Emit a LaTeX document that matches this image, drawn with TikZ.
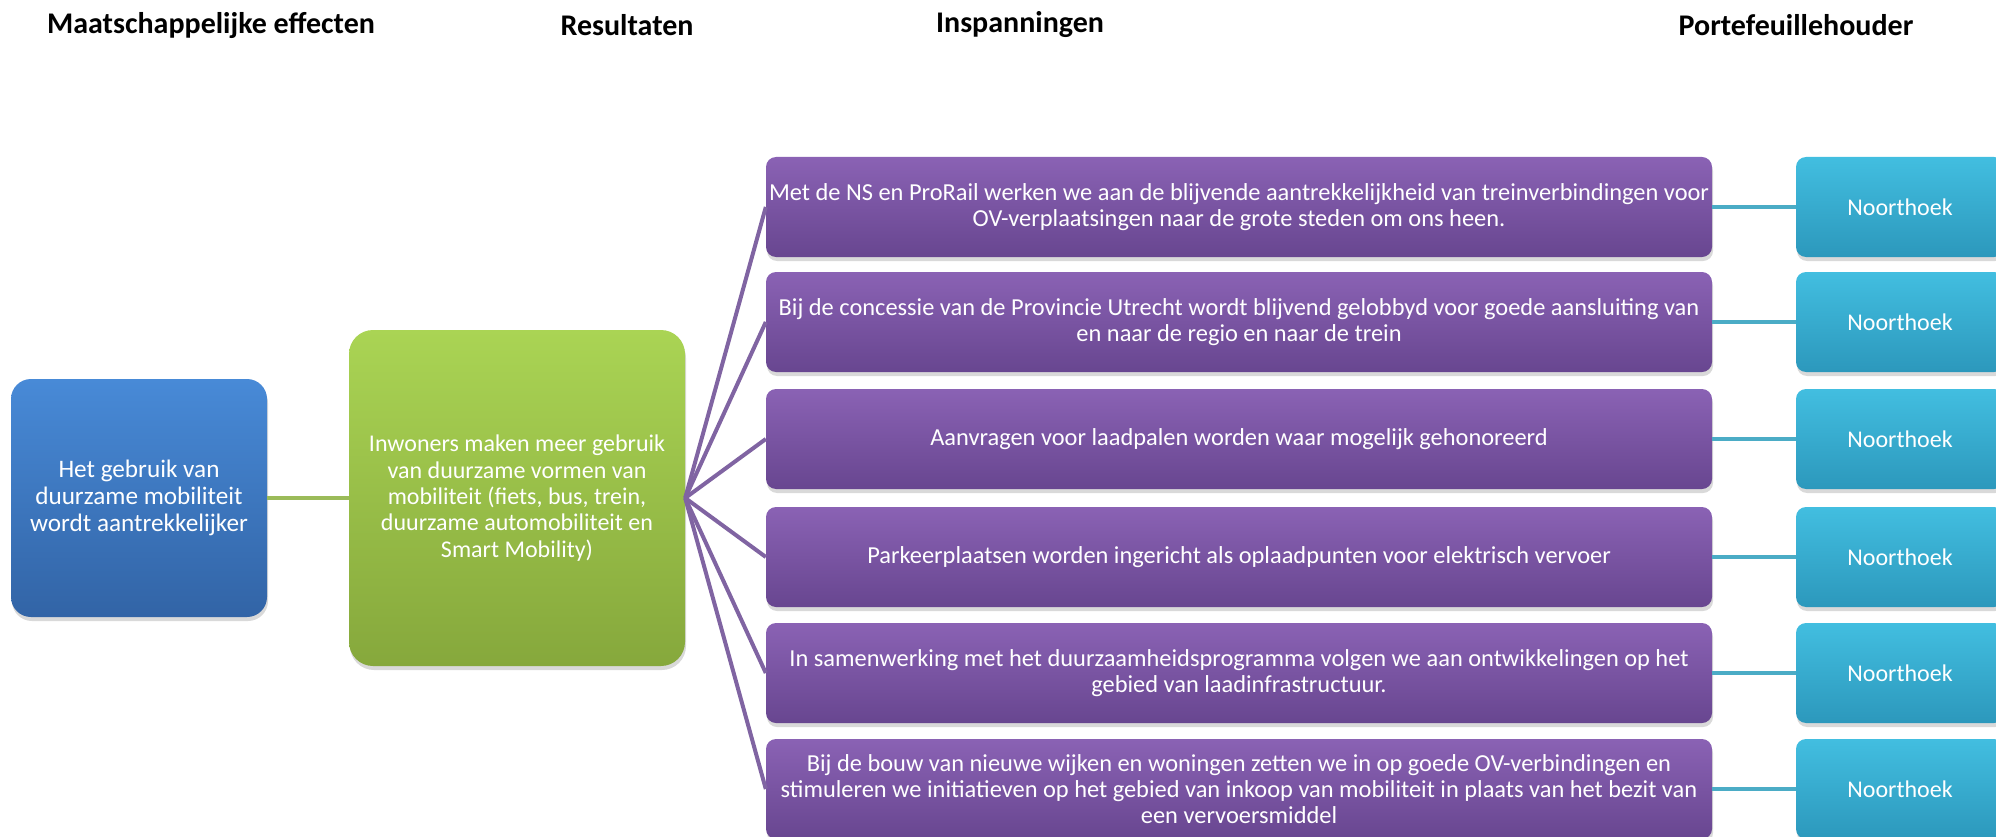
\documentclass[tikz,border=0pt]{standalone}
\usepackage{fontspec}
\setmainfont{Carlito}
\usetikzlibrary{shadows}
\definecolor{bluetop}{RGB}{72,138,215}
\definecolor{bluebot}{RGB}{50,100,166}
\definecolor{greentop}{RGB}{170,212,84}
\definecolor{greenbot}{RGB}{134,168,60}
\definecolor{purpletop}{RGB}{138,98,180}
\definecolor{purplebot}{RGB}{104,70,144}
\definecolor{tealtop}{RGB}{66,190,224}
\definecolor{tealbot}{RGB}{44,152,188}
\definecolor{greenline}{RGB}{155,187,89}
\definecolor{purpleline}{RGB}{128,100,162}
\definecolor{tealline}{RGB}{75,172,198}

\begin{document}
\begin{tikzpicture}[x=1pt,y=-1pt,
	head/.style={font=\bfseries\fontsize{30}{32}\selectfont},
	box/.style={rounded corners=10pt, inner sep=0pt, align=center, text=white,
		drop shadow={shadow xshift=1pt, shadow yshift=-4pt, opacity=0.3}},
	effect/.style={box, rounded corners=20pt, minimum width=256pt, minimum height=238pt,
		font=\fontsize{25.2}{26.7}\selectfont, top color=bluetop, bottom color=bluebot},
	result/.style={box, rounded corners=24pt, minimum width=336pt, minimum height=336pt,
		font=\fontsize{24}{26.3}\selectfont, top color=greentop, bottom color=greenbot},
	effort/.style={box, minimum width=946pt, minimum height=100pt,
		font=\fontsize{24.4}{25.8}\selectfont, top color=purpletop, bottom color=purplebot},
	holder/.style={box, minimum width=208pt, minimum height=100pt,
		font=\fontsize{24}{25.8}\selectfont, top color=tealtop, bottom color=tealbot},
	link/.style={line width=4pt}]
	\useasboundingbox (0,0) rectangle (1996,837);

	\node[head] (hEffect) at (211,25) {Maatschappelijke effecten};
	\node[head] (hResult) at (627,25) {Resultaten};
	\node[head] (hEffort) at (1020,25) {Inspanningen};
	\node[head] (hHolder) at (1796,25) {Portefeuillehouder};

	\node[effect] (effect) at (139,498) {Het gebruik van\\duurzame mobiliteit\\wordt aantrekkelijker};
	\node[result] (result) at (517,498) {Inwoners maken meer gebruik\\van duurzame vormen van\\mobiliteit (fiets, bus, trein,\\duurzame automobiliteit en\\Smart Mobility)};

	\node[effort] (effort1) at (1239,207) {Met de NS en ProRail werken we aan de blijvende aantrekkelijkheid van treinverbindingen voor\\OV-verplaatsingen naar de grote steden om ons heen.};
	\node[effort] (effort2) at (1239,322) {Bij de concessie van de Provincie Utrecht wordt blijvend gelobbyd voor goede aansluiting van\\en naar de regio en naar de trein};
	\node[effort] (effort3) at (1239,439) {Aanvragen voor laadpalen worden waar mogelijk gehonoreerd};
	\node[effort] (effort4) at (1239,557) {Parkeerplaatsen worden ingericht als oplaadpunten voor elektrisch vervoer};
	\node[effort] (effort5) at (1239,673) {In samenwerking met het duurzaamheidsprogramma volgen we aan ontwikkelingen op het\\gebied van laadinfrastructuur.};
	\node[effort] (effort6) at (1239,789) {Bij de bouw van nieuwe wijken en woningen zetten we in op goede OV-verbindingen en\\stimuleren we initiatieven op het gebied van inkoop van mobiliteit in plaats van het bezit van\\een vervoersmiddel};

	\node[holder] (holder1) at (1900,207) {Noorthoek};
	\node[holder] (holder2) at (1900,322) {Noorthoek};
	\node[holder] (holder3) at (1900,439) {Noorthoek};
	\node[holder] (holder4) at (1900,557) {Noorthoek};
	\node[holder] (holder5) at (1900,673) {Noorthoek};
	\node[holder] (holder6) at (1900,789) {Noorthoek};

	\draw[link,greenline] (effect.east) -- (result.west);

	\draw[link,purpleline] (result.east) -- (effort1.west);
	\draw[link,purpleline] (result.east) -- (effort2.west);
	\draw[link,purpleline] (result.east) -- (effort3.west);
	\draw[link,purpleline] (result.east) -- (effort4.west);
	\draw[link,purpleline] (result.east) -- (effort5.west);
	\draw[link,purpleline] (result.east) -- (effort6.west);

	\draw[link,tealline] (effort1.east) -- (holder1.west);
	\draw[link,tealline] (effort2.east) -- (holder2.west);
	\draw[link,tealline] (effort3.east) -- (holder3.west);
	\draw[link,tealline] (effort4.east) -- (holder4.west);
	\draw[link,tealline] (effort5.east) -- (holder5.west);
	\draw[link,tealline] (effort6.east) -- (holder6.west);
\end{tikzpicture}
\end{document}
